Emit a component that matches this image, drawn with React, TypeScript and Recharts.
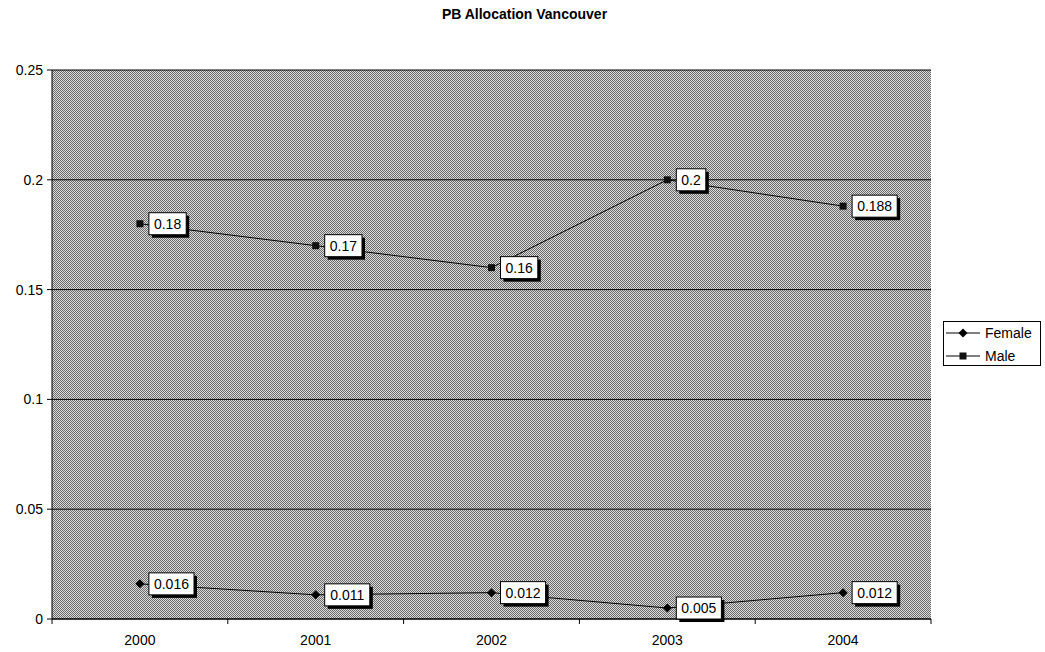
import React from "react";
import {
  LineChart,
  Line,
  XAxis,
  YAxis,
  CartesianGrid,
  LabelList,
} from "recharts";

const years = ["2000", "2001", "2002", "2003", "2004"];
const female = [0.016, 0.011, 0.012, 0.005, 0.012];
const male = [0.18, 0.17, 0.16, 0.2, 0.188];
const yTicks = [0, 0.05, 0.1, 0.15, 0.2, 0.25];
const seriesNames = ["Female", "Male"];

const data = years.map((year, i) => ({ year, Female: female[i], Male: male[i] }));

const FONT = "'Liberation Sans', Arial, Helvetica, sans-serif";
const W = 1045;
const H = 652;
const MARGIN = { top: 70, right: 114, bottom: 0, left: 0 };
const Y_AXIS_W = 52;
const X_AXIS_H = 33;
const BAND = (W - MARGIN.left - Y_AXIS_W - MARGIN.right) / years.length;
// recharts places tick anchors this far from the axis line (tickSize + tickMargin)
const TICK_GAP = 8;

const fmt = (v: number) => String(Number(v.toFixed(3)));

const textWidth = (s: string) => {
  let w = 0;
  for (const ch of s) w += ch === "." ? 3.9 : 7.8;
  return w;
};

const DataTag = (props: any) => {
  const { x, y, value } = props;
  if (x == null || y == null) return null;
  const txt = fmt(Number(value));
  const w = textWidth(txt) + 10;
  const h = 22;
  const bx = x + 9;
  const by = y - h / 2;
  return (
    <g>
      <rect x={bx + 3} y={by + 3} width={w} height={h} fill="#000" />
      <rect x={bx} y={by} width={w} height={h} fill="#fff" stroke="#000" strokeWidth={1} />
      <text
        x={bx + w / 2}
        y={by + h / 2 + 5}
        textAnchor="middle"
        fontFamily={FONT}
        fontSize={14}
        fill="#000"
      >
        {txt}
      </text>
    </g>
  );
};

const Diamond = (props: any) => {
  const { cx, cy } = props;
  if (cx == null || cy == null) return null;
  const r = 4.5;
  return (
    <path
      d={`M${cx},${cy - r}L${cx + r},${cy}L${cx},${cy + r}L${cx - r},${cy}Z`}
      fill="#000"
    />
  );
};

const Square = (props: any) => {
  const { cx, cy } = props;
  if (cx == null || cy == null) return null;
  return <rect x={cx - 3.5} y={cy - 3.5} width={7} height={7} fill="#111" />;
};

const XTick = (props: any) => {
  const { x, y, payload, index } = props;
  const axisY = y - TICK_GAP;
  const left = x - BAND / 2;
  const right = x + BAND / 2;
  return (
    <g>
      <line x1={left} y1={axisY} x2={left} y2={axisY + 5} stroke="#000" />
      {index === years.length - 1 && (
        <line x1={right} y1={axisY} x2={right} y2={axisY + 5} stroke="#000" />
      )}
      <text
        x={x}
        y={axisY + 26}
        textAnchor="middle"
        fontFamily={FONT}
        fontSize={14}
        fill="#000"
      >
        {payload.value}
      </text>
    </g>
  );
};

const YTick = (props: any) => {
  const { x, y, payload } = props;
  const axisX = x + TICK_GAP;
  return (
    <g>
      <line x1={axisX - 5} y1={y} x2={axisX} y2={y} stroke="#000" />
      <text
        x={axisX - 9}
        y={y + 5}
        textAnchor="end"
        fontFamily={FONT}
        fontSize={14}
        fill="#000"
      >
        {fmt(payload.value)}
      </text>
    </g>
  );
};

const LegendBox = () => (
  <svg
    width={98}
    height={45}
    style={{ position: "absolute", left: 943, top: 321, display: "block" }}
  >
    <rect x={0.5} y={0.5} width={97} height={44} fill="#fff" stroke="#000" />
    <line x1={3} y1={12} x2={37} y2={12} stroke="#000" />
    <path d="M20,7.5L24.5,12L20,16.5L15.5,12Z" fill="#000" />
    <text x={42} y={17} fontFamily={FONT} fontSize={14} fill="#000">
      {seriesNames[0]}
    </text>
    <line x1={3} y1={35} x2={37} y2={35} stroke="#000" />
    <rect x={16.5} y={31.5} width={7} height={7} fill="#111" />
    <text x={42} y={40} fontFamily={FONT} fontSize={14} fill="#000">
      {seriesNames[1]}
    </text>
  </svg>
);

export default function App() {
  return (
    <div style={{ position: "absolute", left: 0, top: 0, width: W, height: H, background: "#fff" }}>
      <div
        style={{
          position: "absolute",
          left: 0,
          top: 6,
          width: 1045,
          textAlign: "center",
          fontFamily: FONT,
          fontWeight: "bold",
          fontSize: 14,
          color: "#000",
          paddingLeft: 2,
        }}
      >
        PB Allocation Vancouver
      </div>
      <LineChart width={W} height={H} data={data} margin={MARGIN}>
        <defs>
          <pattern id="dither" width="2" height="2" patternUnits="userSpaceOnUse">
            <rect width="2" height="2" fill="#dadada" />
            <rect x="0" y="0" width="1" height="1" fill="#6c6c6c" />
            <rect x="1" y="1" width="1" height="1" fill="#6c6c6c" />
          </pattern>
        </defs>
        <CartesianGrid
          vertical={false}
          stroke="#000"
          strokeWidth={1}
          fill="url(#dither)"
          fillOpacity={1}
        />
        <XAxis
          dataKey="year"
          scale="band"
          height={X_AXIS_H}
          axisLine={{ stroke: "#000" }}
          tickLine={false}
          tick={<XTick />}
          interval={0}
        />
        <YAxis
          width={Y_AXIS_W}
          domain={[0, 0.25]}
          ticks={yTicks}
          axisLine={{ stroke: "#000" }}
          tickLine={false}
          tick={<YTick />}
          interval={0}
        />
        <Line
          dataKey="Female"
          stroke="#000"
          strokeWidth={1}
          dot={<Diamond />}
          activeDot={false}
          isAnimationActive={false}
        >
          <LabelList dataKey="Female" content={<DataTag />} />
        </Line>
        <Line
          dataKey="Male"
          stroke="#000"
          strokeWidth={1}
          dot={<Square />}
          activeDot={false}
          isAnimationActive={false}
        >
          <LabelList dataKey="Male" content={<DataTag />} />
        </Line>
      </LineChart>
      <LegendBox />
    </div>
  );
}
